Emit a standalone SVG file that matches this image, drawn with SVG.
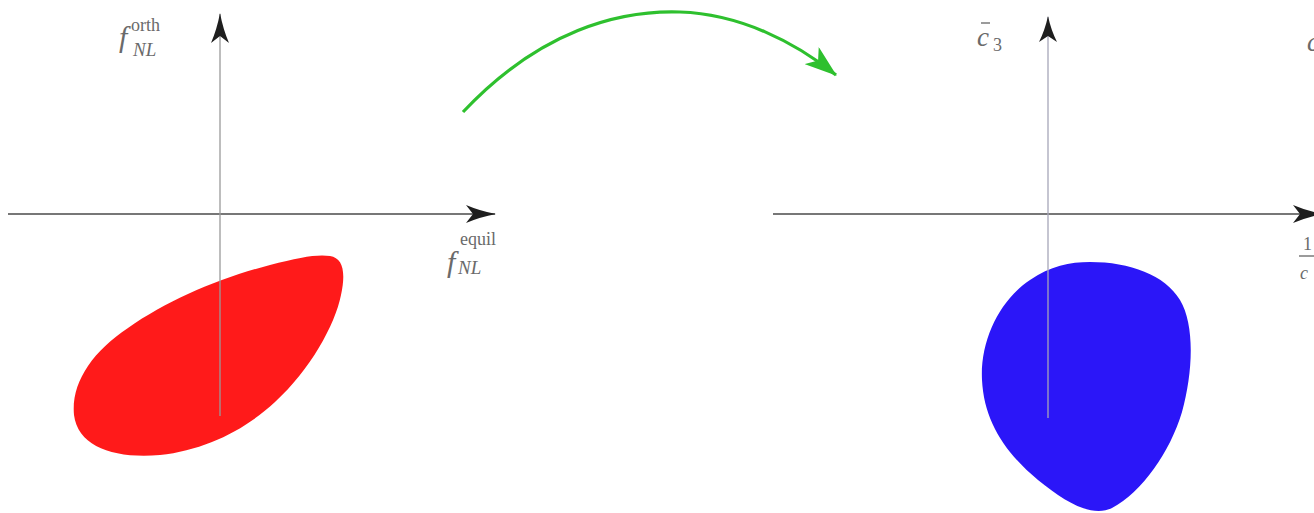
<svg xmlns="http://www.w3.org/2000/svg" width="1314" height="513" viewBox="0 0 1314 513">
<style>
.ax{stroke:#4a4a4a;stroke-width:1.6;fill:none}
.vax{stroke:#9a9a9a;stroke-width:1.3;fill:none}
.m{font-family:"Liberation Serif","DejaVu Serif",serif;fill:#6a6a6a}
.it{font-style:italic}
</style>
<defs>
<marker id="ah" viewBox="0 0 30 18" refX="29" refY="9" markerWidth="30" markerHeight="18" markerUnits="userSpaceOnUse" orient="auto">
<path d="M0,0 Q14,6 30,9 Q14,12 0,18 L7,9 Z" fill="#1e1e1e"/>
</marker>
<marker id="ahs" viewBox="0 0 26 18" refX="25" refY="9" markerWidth="26" markerHeight="18" markerUnits="userSpaceOnUse" orient="auto">
<path d="M0,0 Q12,6 26,9 Q12,12 0,18 L6,9 Z" fill="#1e1e1e"/>
</marker>
<marker id="ahg" viewBox="0 0 32 22" refX="31" refY="11" markerWidth="32" markerHeight="22" markerUnits="userSpaceOnUse" orient="auto">
<path d="M0,0 L32,11 L0,22 L8,11 Z" fill="#2ec02e"/>
</marker>
</defs>

<g id="red-region">
<path d="M330,256 C343,258 346,272 341,295 C335,325 310,370 275,402 C245,430 205,450 160,455 C115,459 78,447 74,415 C71,383 92,352 128,328 C168,300 220,278 270,265 C300,257 318,254 330,256 Z" fill="#ff1a1a"/>
</g>

<g id="blue-region">
<path d="M1090,262 C1130,262 1165,275 1180,300 C1195,325 1193,372 1182,412 C1170,452 1142,492 1112,508 C1092,518 1065,502 1038,480 C1004,452 984,420 982,380 C980,340 1000,300 1030,280 C1050,266 1070,262 1090,262 Z" fill="#2b16f8"/>
</g>

<g id="left-axes">
<line class="ax" x1="8" y1="214" x2="495" y2="214" marker-end="url(#ah)"/>
<line class="vax" x1="220" y1="416" x2="220" y2="14" marker-end="url(#ah)"/>
<text class="m it" x="119" y="47" font-size="30">f</text>
<text class="m" x="131" y="31" font-size="18">orth</text>
<text class="m it" x="133" y="56" font-size="19">NL</text>
<text class="m it" x="447" y="272" font-size="30">f</text>
<text class="m" x="460" y="245" font-size="18">equil</text>
<text class="m it" x="458" y="274" font-size="19">NL</text>
</g>

<g id="right-axes">
<line class="ax" x1="773" y1="214" x2="1322" y2="214" marker-end="url(#ah)"/>
<line class="vax" x1="1048" y1="418" x2="1048" y2="17" marker-end="url(#ahs)" style="stroke:#a6a6b8"/>
<text class="m it" x="977" y="46" font-size="27">c</text>
<line x1="981" y1="23" x2="990" y2="23" stroke="#7a7a7a" stroke-width="1.5"/>
<text class="m" x="993" y="51" font-size="18">3</text>
<text class="m it" x="1307" y="51" font-size="27">c</text>
<text class="m" x="1303" y="250" font-size="18">1</text>
<line x1="1299" y1="256" x2="1314" y2="256" stroke="#7a7a7a" stroke-width="1.5"/>
<text class="m it" x="1300" y="279" font-size="18">c</text>
</g>

<g id="connectors">
<path d="M463,112 C540,30 620,10 680,12 C740,14 795,42 836,75" fill="none" stroke="#2ec02e" stroke-width="3.2" marker-end="url(#ahg)"/>
</g>
</svg>
